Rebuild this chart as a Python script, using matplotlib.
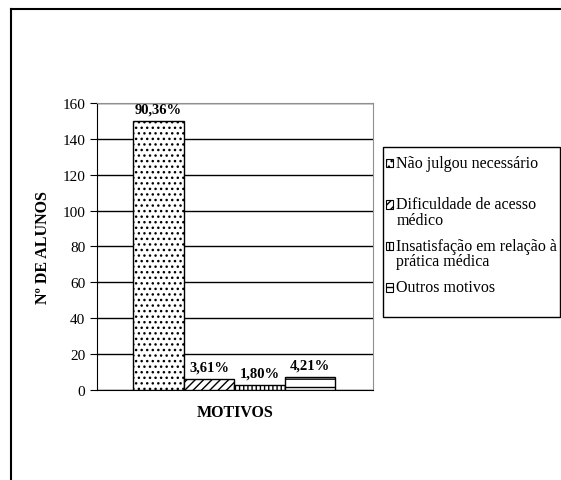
import matplotlib
matplotlib.use("Agg")
import matplotlib.pyplot as plt
from matplotlib.lines import Line2D
from matplotlib.patches import Patch, Rectangle
from matplotlib.legend_handler import HandlerPatch

# data
motivos = ["Não julgou necessário\n ", "Dificuldade de acesso\nmédico",
           "Insatisfação em relação à\nprática médica", "Outros motivos\n "]
n_alunos = [150, 6, 3, 7]
percentuais = ["90,36%", "3,61%", "1,80%", "4,21%"]
hatches = ["...", "////", "||||", "--"]
y_ticks = [0, 20, 40, 60, 80, 100, 120, 140, 160]

plt.rcParams["font.family"] = ["Liberation Serif", "DejaVu Serif"]
plt.rcParams["hatch.linewidth"] = 1.0

LEG_FS = 11.5
LINE_PITCH_PT = 16 * 0.72  # 16 px between lines of one entry


class FirstLineHandler(HandlerPatch):
    """Put the little swatch next to the first line of a two-line label."""

    def create_artists(self, legend, orig_handle, xdescent, ydescent,
                       width, height, fontsize, trans):
        p = Rectangle((-xdescent, -ydescent + LINE_PITCH_PT / 2),
                      width, height)
        self.update_prop(p, orig_handle, legend)
        p.set_transform(trans)
        return [p]


fig = plt.figure(figsize=(5.61, 4.81), dpi=100)
ax = fig.add_axes([0.1729, 0.1871, 0.492, 0.5967])

xs = list(range(len(n_alunos)))
bars = ax.bar(xs, n_alunos, width=1.0, color="white", edgecolor="black",
              linewidth=1.0, hatch=hatches, zorder=3)
ax.bar_label(bars, labels=percentuais, padding=4, fontsize=10.5,
             fontweight="bold")

ax.set_xlim(-1.22, 4.25)
ax.set_ylim(0, 160)
ax.set_yticks(y_ticks)
ax.set_xticks([])
ax.tick_params(axis="y", labelsize=11, length=5, direction="out")
ax.yaxis.grid(True, color="black", linewidth=1.0, zorder=0)
ax.set_axisbelow(True)
for side in ("top", "right"):
    ax.spines[side].set_color("#909090")
ax.spines["left"].set_color("black")
ax.spines["bottom"].set_color("black")

ax.set_ylabel("Nº DE ALUNOS", fontsize=11.5, fontweight="bold", labelpad=8)
ax.set_xlabel("MOTIVOS", fontsize=11.5, fontweight="bold", labelpad=10)

# legend: box drawn by hand, entries by matplotlib's legend
fig.add_artist(Rectangle((383 / 561, 1 - 318 / 481), 177 / 561, 170 / 481,
                         transform=fig.transFigure, facecolor="white",
                         edgecolor="black", linewidth=1.0, zorder=1))
handles = [Patch(facecolor="white", edgecolor="black", hatch=h, linewidth=0.8)
           for h in hatches]
leg = fig.legend(handles, motivos, loc="upper left",
                 bbox_to_anchor=(386 / 561, 1 - 156 / 481),
                 fontsize=LEG_FS, frameon=False,
                 handlelength=0.45, handleheight=0.45,
                 handletextpad=0.2, labelspacing=0.62, borderpad=0,
                 borderaxespad=0,
                 handler_map={Patch: FirstLineHandler()})
leg.set_zorder(2)
for t in leg.get_texts():
    t.set_linespacing(0.96)

# outer chart frame (top and left edges only are visible)
fig.add_artist(Line2D([11 / 561, 1.0], [1 - 10 / 481] * 2,
                      color="black", linewidth=1.5))
fig.add_artist(Line2D([11 / 561] * 2, [0.0, 1 - 10 / 481],
                      color="black", linewidth=1.5))

fig.savefig("out.png", dpi=100)
